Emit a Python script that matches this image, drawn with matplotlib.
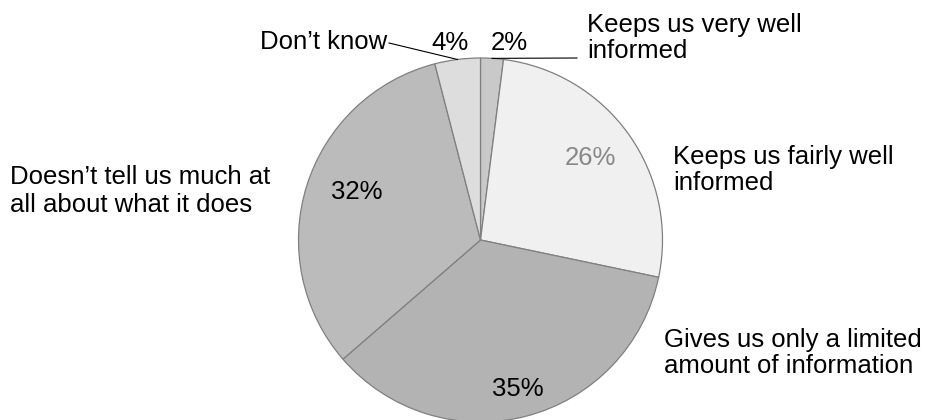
import numpy as np
import matplotlib
matplotlib.use("Agg")
import matplotlib.pyplot as plt

plt.rcParams['font.family'] = ['Liberation Sans', 'DejaVu Sans']

answers = ["Keeps us very well\ninformed",
           "Keeps us fairly well\ninformed",
           "Gives us only a limited\namount of information",
           "Doesn\u2019t tell us much at\nall about what it does",
           "Don\u2019t know"]
shares = [2, 26, 35, 32, 4]
colors = ["#c9c9c9", "#f0f0f0", "#b3b3b3", "#bbbbbb", "#dddddd"]

W, H = 925, 420
fig = plt.figure(figsize=(9.25, 4.2), dpi=100)
ax = fig.add_axes([0, 0, 1, 1])

cx, cy, r = 480.5, H - 240, 182
wedges, _ = ax.pie(shares, colors=colors, startangle=90, counterclock=False,
                   center=(cx, cy), radius=r, frame=True,
                   wedgeprops=dict(edgecolor="#808080", linewidth=0.9))
ax.set_xlim(0, W)
ax.set_ylim(0, H)
ax.set_aspect("equal")
ax.axis("off")

fs = 18.5

# percentage labels (positions in pixels from top-left)
pct_pos = [(509, 43), (590, 158), (518, 389), (357, 192), (450, 43)]
pct_col = ["black", "#888888", "black", "black", "black"]
for v, (x, y), c in zip(shares, pct_pos, pct_col):
    ax.text(x, H - y, f"{v}%", ha="center", va="center", fontsize=fs, color=c)

# category labels
ax.text(587, H - 38, answers[0], ha="left", va="center", fontsize=fs, linespacing=1.15)
ax.text(673, H - 170, answers[1], ha="left", va="center", fontsize=fs, linespacing=1.12)
ax.text(664, H - 353, answers[2], ha="left", va="center", fontsize=fs, linespacing=1.08)
ax.text(10, H - 191, answers[3], ha="left", va="center", fontsize=fs, linespacing=1.16)
ax.text(387, H - 42, answers[4], ha="right", va="center", fontsize=fs)


def edge_point(w):
    a = np.deg2rad((w.theta1 + w.theta2) / 2)
    return cx + r * np.cos(a), cy + r * np.sin(a)


# leader lines
x0, y0 = edge_point(wedges[0])
ax.plot([x0, 577], [y0, H - 58], color="black", lw=0.8)
x4, y4 = edge_point(wedges[4])
ax.plot([x4, 389], [y4, H - 43], color="black", lw=0.8)

fig.savefig("out.png", dpi=100)
